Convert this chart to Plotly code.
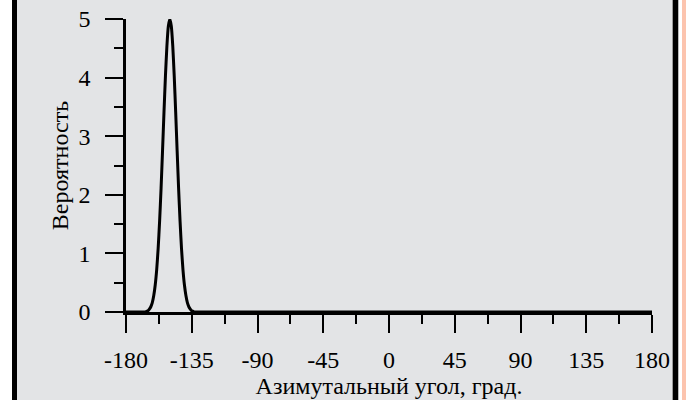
import plotly.graph_objects as go

# Azimuth angle (deg) and probability density
angle = [-180, -172, -167, -166, -165, -164, -163, -162, -161, -160, -159, -158, -157, -156,
         -155, -154, -153, -152, -151, -150, -149, -148, -147, -146, -145, -144,
         -143, -142, -141, -140, -139, -138, -137, -136, -135, -134, -133, -128,
         -90, -45, 0, 45, 90, 135, 180]
prob = [0.0, 0.0, 0.0, 0.01, 0.02, 0.05, 0.09, 0.16, 0.28, 0.46, 0.72, 1.08, 1.55, 2.11,
        2.75, 3.41, 4.03, 4.54, 4.88, 5.00, 4.88, 4.54, 4.03, 3.41, 2.75, 2.11,
        1.55, 1.08, 0.72, 0.46, 0.28, 0.16, 0.09, 0.05, 0.02, 0.01, 0.0, 0.0,
        0.0, 0.0, 0.0, 0.0, 0.0, 0.0, 0.0]

x_ticks = [-180, -135, -90, -45, 0, 45, 90, 135, 180]
y_ticks = [0, 1, 2, 3, 4, 5]
x_title = "Азимутальный угол, град."
y_title = "Вероятность"

BG = "#e3e4e6"
FONT = "Liberation Serif"

fig = go.Figure()
fig.add_trace(go.Scatter(x=angle, y=prob, mode="lines",
                         line=dict(color="black", width=3, shape="spline", smoothing=0.5),
                         showlegend=False))

axis_common = dict(showgrid=False, zeroline=False, showline=True, linecolor="black",
                   linewidth=2.5, ticks="outside", ticklen=18, tickwidth=2,
                   tickcolor="black", tickfont=dict(family=FONT, size=24, color="black"),
                   title_font=dict(family=FONT, size=24, color="black"))

fig.update_xaxes(range=[-180, 180], tickvals=x_ticks, ticktext=[str(v) for v in x_ticks],
                 minor=dict(dtick=22.5, tick0=-180, ticklen=9, tickwidth=2,
                            tickcolor="black", ticks="outside"),
                 title_text=x_title, title_standoff=0, ticklabelstandoff=6,
                 **axis_common)
fig.update_yaxes(range=[0, 5], tickvals=y_ticks, ticktext=[str(v) for v in y_ticks],
                 minor=dict(dtick=0.5, tick0=0, ticklen=9, tickwidth=2,
                            tickcolor="black", ticks="outside"),
                 title_text=y_title, title_standoff=4, ticklabelstandoff=10,
                 **axis_common)

W, H = 686, 400
L, R, T, B = 126, 34, 19, 88
pw, ph = W - L - R, H - T - B

def px_x(p):
    return (p - L) / pw

def px_y(p):
    return (H - B - p) / ph

shapes = [
    dict(type="rect", xref="paper", yref="paper", x0=px_x(0), x1=px_x(12),
         y0=px_y(H), y1=px_y(0), fillcolor="white", line_width=0, layer="below"),
    dict(type="rect", xref="paper", yref="paper", x0=px_x(12), x1=px_x(17),
         y0=px_y(H), y1=px_y(0), fillcolor="black", line_width=0, layer="below"),
    dict(type="rect", xref="paper", yref="paper", x0=px_x(672), x1=px_x(673),
         y0=px_y(H), y1=px_y(0), fillcolor="#9a9a9a", line_width=0, layer="below"),
    dict(type="rect", xref="paper", yref="paper", x0=px_x(673), x1=px_x(678.5),
         y0=px_y(H), y1=px_y(0), fillcolor="black", line_width=0, layer="below"),
    dict(type="rect", xref="paper", yref="paper", x0=px_x(678.5), x1=px_x(682),
         y0=px_y(H), y1=px_y(0), fillcolor="white", line_width=0, layer="below"),
    dict(type="rect", xref="paper", yref="paper", x0=px_x(682), x1=px_x(686),
         y0=px_y(H), y1=px_y(0), fillcolor="#fcc4ae", line_width=0, layer="below"),
]

fig.update_layout(width=W, height=H, margin=dict(l=L, r=R, t=T, b=B, autoexpand=False),
                  paper_bgcolor=BG, plot_bgcolor=BG, shapes=shapes,
                  font=dict(family=FONT, color="black"))

fig.write_html("out.html")
